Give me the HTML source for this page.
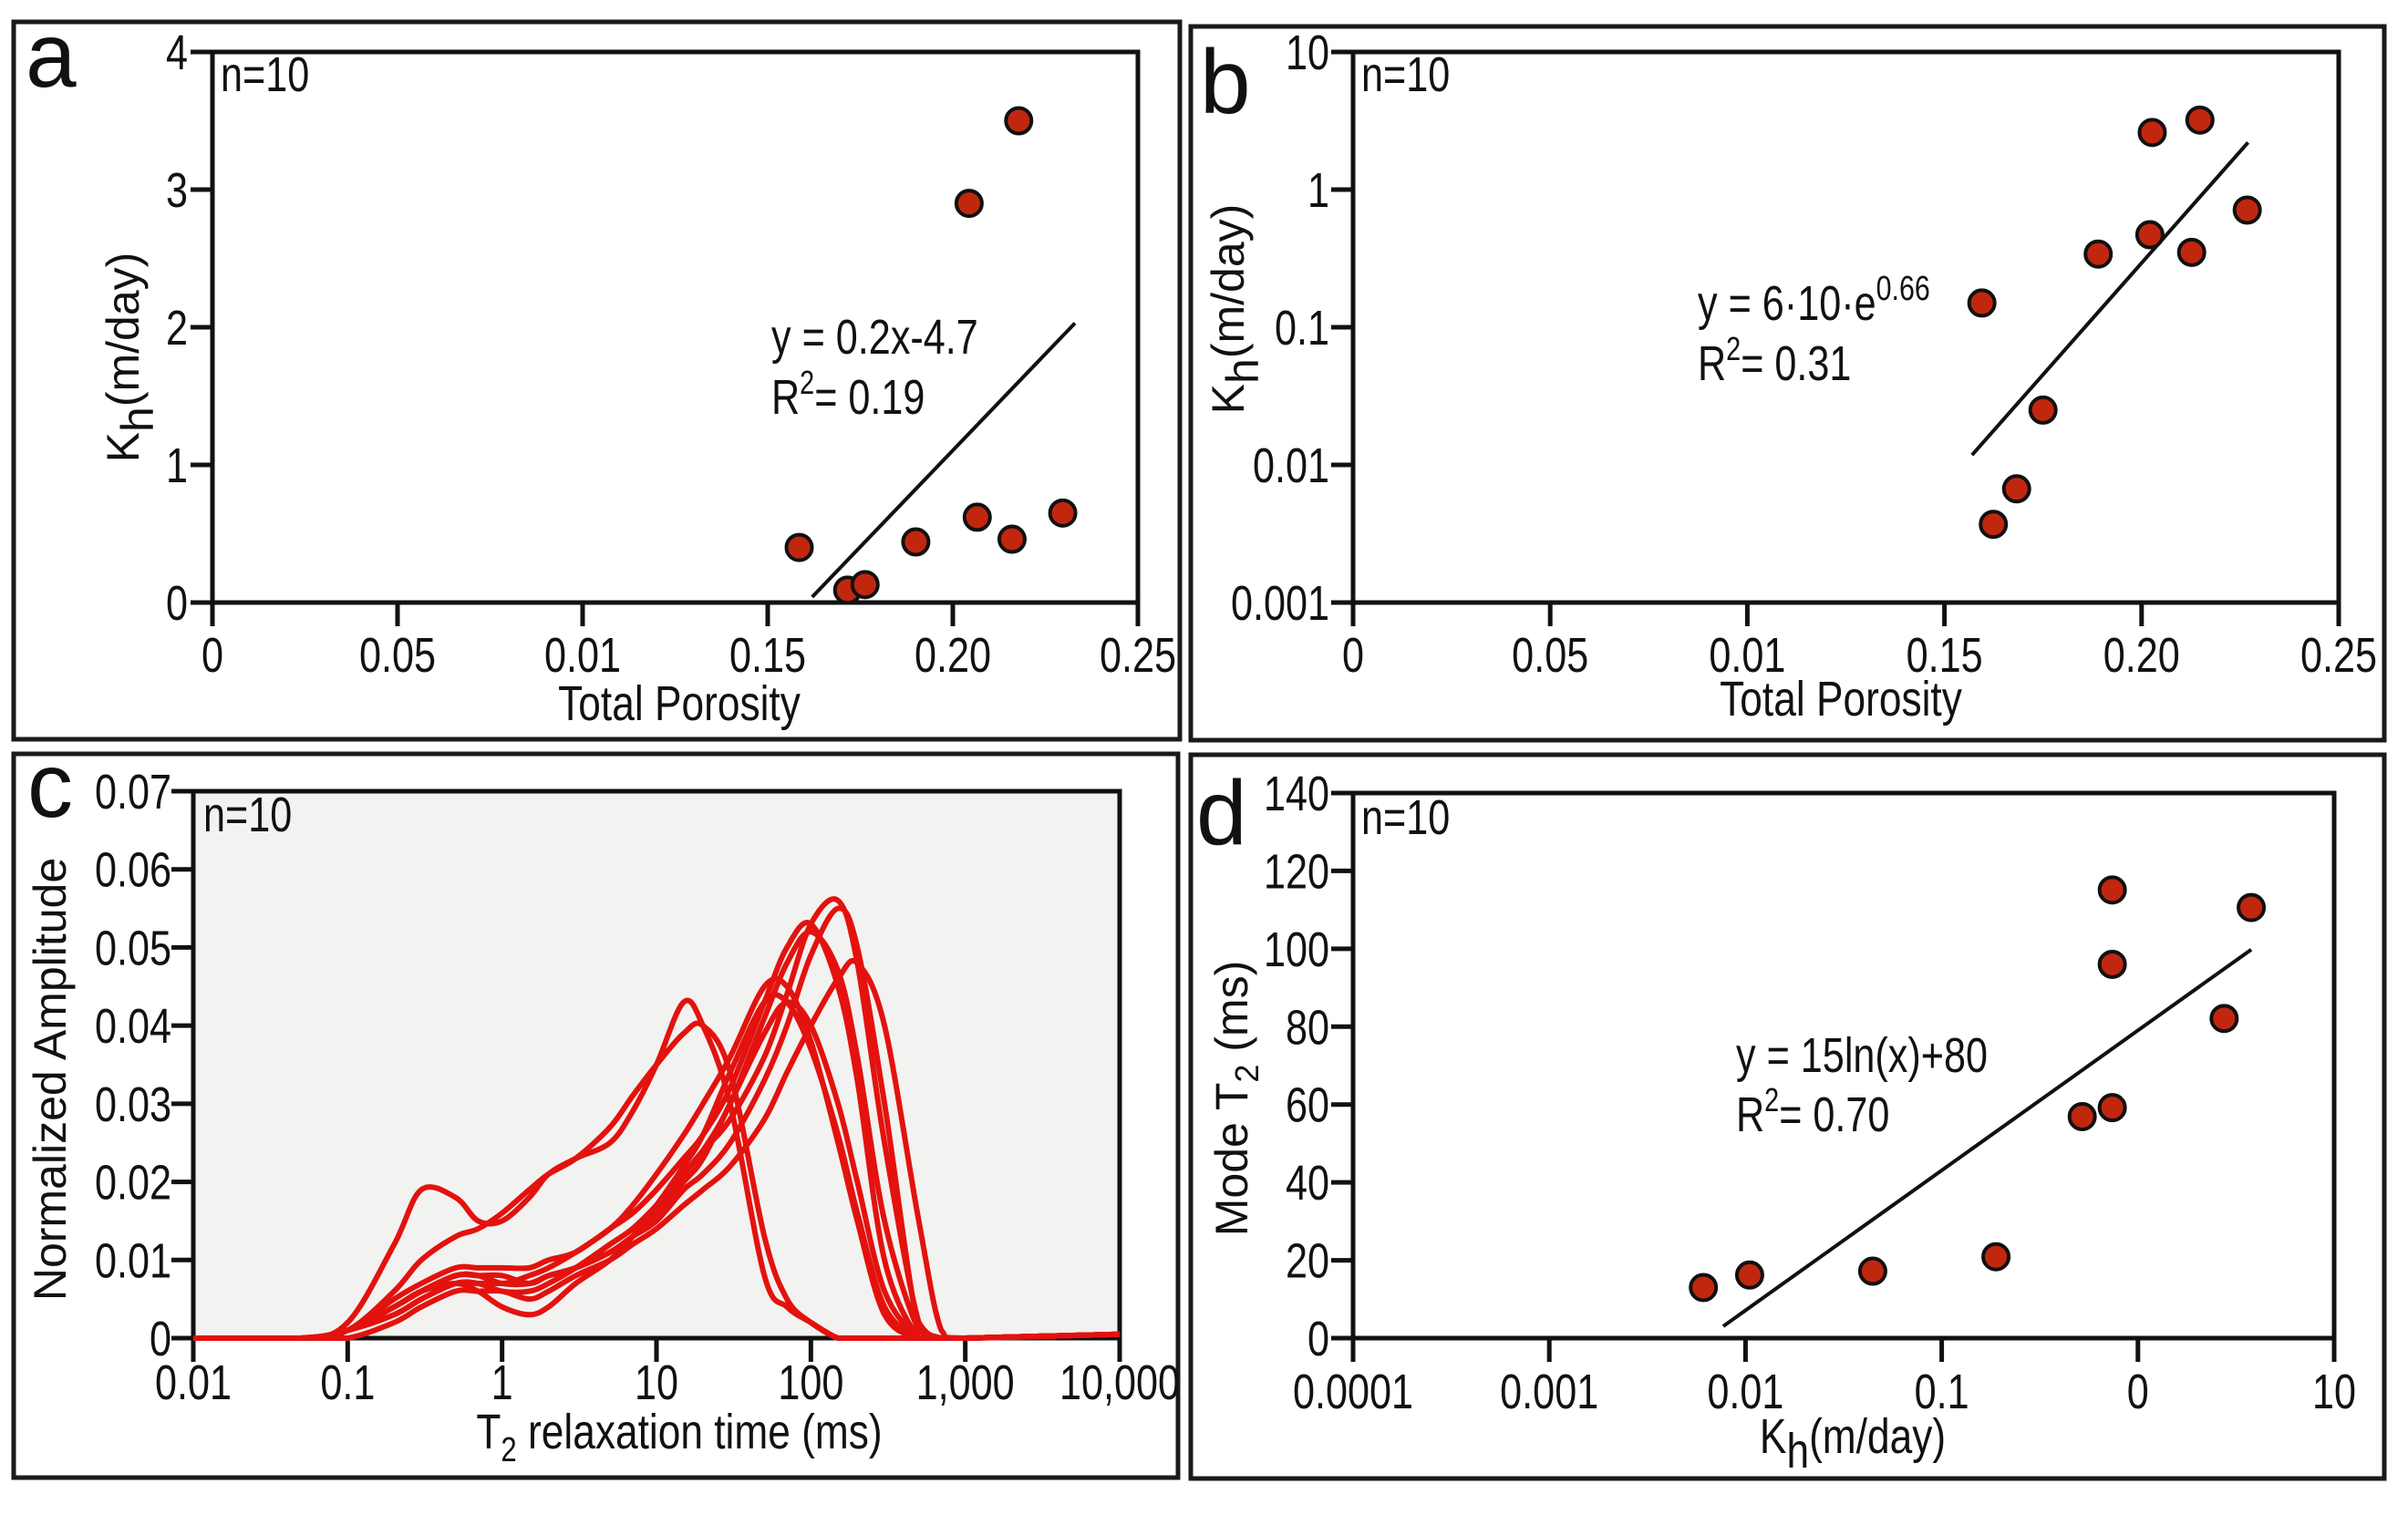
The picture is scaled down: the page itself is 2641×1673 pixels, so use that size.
<!DOCTYPE html>
<html><head><meta charset="utf-8"><style>
html,body{margin:0;padding:0;background:#fff;}
svg{display:block;font-family:"Liberation Sans",sans-serif;}
</style></head><body>
<svg id="fig" width="2641" height="1673" viewBox="0 0 2641 1673" xmlns="http://www.w3.org/2000/svg">
<rect x="0" y="0" width="2641" height="1673" fill="#fff"/>
<!-- panel borders -->
<rect x="15" y="24" width="1279" height="787" fill="none" stroke="#1a1a1a" stroke-width="5"/>
<rect x="1306" y="29" width="1309" height="783" fill="none" stroke="#1a1a1a" stroke-width="5"/>
<rect x="15" y="827" width="1277" height="794" fill="none" stroke="#1a1a1a" stroke-width="5"/>
<rect x="1306" y="828" width="1309" height="794" fill="none" stroke="#1a1a1a" stroke-width="5"/>
<!-- plot frames -->
<rect x="233" y="57" width="1015" height="604" fill="none" stroke="#111" stroke-width="5"/>
<rect x="1484" y="57" width="1081" height="604" fill="none" stroke="#111" stroke-width="5"/>
<rect x="212" y="868" width="1016" height="600" fill="#f2f2f0" stroke="#111" stroke-width="5"/>
<rect x="1484" y="870" width="1076" height="598" fill="none" stroke="#111" stroke-width="5"/>
<!-- panel letters -->
<text x="28" y="95" font-size="100" fill="#111">a</text>
<text x="1316" y="124" font-size="100" fill="#111">b</text>
<text x="30" y="896" font-size="100" fill="#111">c</text>
<text x="1312" y="926" font-size="100" fill="#111">d</text>
<!-- n=10 -->
<text transform="translate(242,100) scale(0.8,1)" font-size="54" fill="#111">n=10</text>
<text transform="translate(1493,100) scale(0.8,1)" font-size="54" fill="#111">n=10</text>
<text transform="translate(223,912) scale(0.8,1)" font-size="54" fill="#111">n=10</text>
<text transform="translate(1493,915) scale(0.8,1)" font-size="54" fill="#111">n=10</text>
<!-- axis titles -->
<text transform="translate(745,790) scale(0.82,1)" font-size="54" text-anchor="middle" fill="#111">Total Porosity</text>
<text transform="translate(2019,785) scale(0.82,1)" font-size="54" text-anchor="middle" fill="#111">Total Porosity</text>
<text transform="translate(745,1589) scale(0.82,1)" font-size="54" text-anchor="middle" fill="#111">T<tspan font-size="38" dy="14">2</tspan><tspan dy="-14"> relaxation time (ms)</tspan></text>
<text transform="translate(2032,1594) scale(0.82,1)" font-size="54" text-anchor="middle" fill="#111">K<tspan dy="16">h</tspan><tspan dy="-16">(m/day)</tspan></text>
<text transform="translate(152,392) rotate(-90)" font-size="50" text-anchor="middle" fill="#111">K<tspan dy="16">h</tspan><tspan dy="-16">(m/day)</tspan></text>
<text transform="translate(1364,339) rotate(-90)" font-size="50" text-anchor="middle" fill="#111">K<tspan dy="16">h</tspan><tspan dy="-16">(m/day)</tspan></text>
<text transform="translate(72,1184) rotate(-90)" font-size="50" text-anchor="middle" fill="#111">Normalized Amplitude</text>
<text transform="translate(1368,1205) rotate(-90)" font-size="50" text-anchor="middle" fill="#111">Mode T<tspan font-size="36" dy="12">2</tspan><tspan dy="-12"> (ms)</tspan></text>
<!-- equations -->
<text transform="translate(846,388) scale(0.8,1)" font-size="54" fill="#111">y = 0.2x-4.7</text>
<text transform="translate(846,454) scale(0.8,1)" font-size="54" fill="#111">R<tspan font-size="36" dy="-22">2</tspan><tspan dy="22">= 0.19</tspan></text>
<text transform="translate(1862,351) scale(0.8,1)" font-size="54" fill="#111">y = 6·10·e<tspan font-size="38" dy="-22">0.66</tspan></text>
<text transform="translate(1862,417) scale(0.8,1)" font-size="54" fill="#111">R<tspan font-size="36" dy="-22">2</tspan><tspan dy="22">= 0.31</tspan></text>
<text transform="translate(1904,1176) scale(0.8,1)" font-size="54" fill="#111">y = 15ln(x)+80</text>
<text transform="translate(1904,1241) scale(0.8,1)" font-size="54" fill="#111">R<tspan font-size="36" dy="-22">2</tspan><tspan dy="22">= 0.70</tspan></text>
<g id="marks"></g>
</svg>
<script>
// ---- Panel a data ----
const aPorosity = [0.1585, 0.1716, 0.1763, 0.190, 0.2044, 0.2066, 0.216, 0.2178, 0.2297];
const aKh = [0.40, 0.09, 0.13, 0.44, 2.90, 0.62, 0.46, 3.50, 0.65];
const aFitX = [0.162, 0.233];
const aFitY = [0.04, 2.03];
const aXTicks = [0, 0.05, 0.10, 0.15, 0.20, 0.25];
const aXLabels = ["0", "0.05", "0.01", "0.15", "0.20", "0.25"];
const aYTicks = [0, 1, 2, 3, 4];
const aYLabels = ["0", "1", "2", "3", "4"];
// ---- Panel b data ----
const bPorosity = [0.1595, 0.1624, 0.1683, 0.175, 0.189, 0.2021, 0.2027, 0.2127, 0.2148, 0.2268];
const bKh = [0.15, 0.0037, 0.0067, 0.025, 0.34, 0.47, 2.6, 0.35, 3.2, 0.71];
const bFitX = [0.157, 0.227];
const bFitY = [0.0118, 2.2];
const bXTicks = [0, 0.05, 0.10, 0.15, 0.20, 0.25];
const bXLabels = ["0", "0.05", "0.01", "0.15", "0.20", "0.25"];
const bYTicks = [0.001, 0.01, 0.1, 1, 10];
const bYLabels = ["0.001", "0.01", "0.1", "1", "10"];
// ---- Panel c data ----
const cT2 = [0.01,0.05,0.1,0.2,0.3,0.5,0.7,1,1.5,2,3,5,7,10,15,20,30,50,70,100,150,200,300,500,700,1000,10000];
const cCurve1 = [0,0,0.002,0.012,0.019,0.018,0.015,0.015,0.018,0.021,0.023,0.025,0.029,0.035,0.043,0.040,0.030,0.008,0.004,0.002,0,0,0,0,0,0,0.0005];
const cCurve2 = [0,0,0.001,0.006,0.010,0.013,0.014,0.016,0.019,0.021,0.023,0.027,0.031,0.035,0.039,0.040,0.034,0.013,0.005,0.002,0,0,0,0,0,0,0.0005];
const cCurve3 = [0,0,0.001,0.004,0.006,0.008,0.008,0.007,0.007,0.008,0.009,0.012,0.014,0.017,0.021,0.024,0.028,0.036,0.044,0.053,0.056,0.048,0.025,0.002,0,0,0.0005];
const cCurve4 = [0,0,0.001,0.004,0.006,0.008,0.008,0.008,0.007,0.008,0.009,0.011,0.013,0.015,0.019,0.021,0.025,0.033,0.040,0.049,0.055,0.050,0.030,0.001,0,0,0.0005];
const cCurve5 = [0,0,0.001,0.005,0.007,0.009,0.009,0.009,0.009,0.010,0.011,0.014,0.016,0.019,0.023,0.026,0.032,0.043,0.050,0.053,0.045,0.033,0.010,0,0,0,0.0005];
const cCurve6 = [0,0,0.001,0.003,0.005,0.007,0.007,0.006,0.006,0.007,0.009,0.012,0.014,0.017,0.021,0.024,0.030,0.041,0.048,0.052,0.047,0.036,0.015,0.001,0,0,0.0005];
const cCurve7 = [0,0,0,0.002,0.004,0.006,0.006,0.006,0.005,0.006,0.008,0.010,0.012,0.014,0.017,0.019,0.022,0.028,0.034,0.040,0.046,0.048,0.040,0.015,0.001,0,0.0005];
const cCurve8 = [0,0,0.001,0.004,0.006,0.008,0.008,0.007,0.008,0.009,0.011,0.014,0.017,0.021,0.026,0.030,0.036,0.045,0.045,0.038,0.025,0.015,0.003,0,0,0,0.0005];
const cCurve9 = [0,0,0.001,0.004,0.006,0.007,0.006,0.004,0.003,0.004,0.007,0.010,0.013,0.017,0.022,0.026,0.034,0.043,0.043,0.037,0.026,0.016,0.004,0,0,0,0.0005];
const cCurve10 = [0,0,0.001,0.003,0.005,0.007,0.007,0.007,0.007,0.008,0.009,0.011,0.013,0.016,0.020,0.023,0.030,0.039,0.043,0.040,0.030,0.020,0.006,0,0,0,0.0005];
const cXTicks = [0.01, 0.1, 1, 10, 100, 1000, 10000];
const cXLabels = ["0.01", "0.1", "1", "10", "100", "1,000", "10,000"];
const cYTicks = [0, 0.01, 0.02, 0.03, 0.04, 0.05, 0.06, 0.07];
const cYLabels = ["0", "0.01", "0.02", "0.03", "0.04", "0.05", "0.06", "0.07"];
// ---- Panel d data ----
const dKh = [0.0061, 0.0105, 0.0445, 0.189, 0.52, 0.74, 0.74, 0.74, 2.75, 3.78];
const dModeT2 = [13.0, 16.2, 17.2, 20.9, 56.9, 59.2, 96.0, 115.1, 82.1, 110.6];
const dFitX = [0.0077, 3.78];
const dFitY = [3.05, 99.8];
const dXTicks = [0.0001, 0.001, 0.01, 0.1, 1, 10];
const dXLabels = ["0.0001", "0.001", "0.01", "0.1", "0", "10"];
const dYTicks = [0, 20, 40, 60, 80, 100, 120, 140];
const dYLabels = ["0", "20", "40", "60", "80", "100", "120", "140"];

// ---- scales ----
const xa = v => 233 + v / 0.25 * 1015;
const ya = v => 661 - v / 4 * 604;
const xb = v => 1484 + v / 0.25 * 1081;
const yb = v => 661 - (Math.log10(v) + 3) / 4 * 604;
const xc = v => 212 + (Math.log10(v) + 2) / 6 * 1016;
const yc = v => 1468 - v / 0.07 * 600;
const xd = v => 1484 + (Math.log10(v) + 4) / 5 * 1076;
const yd = v => 1468 - v / 140 * 598;

const NS = "http://www.w3.org/2000/svg";
const root = document.getElementById("marks");
function mk(tag, attrs, parent) {
  const e = document.createElementNS(NS, tag);
  for (const k in attrs) e.setAttribute(k, attrs[k]);
  (parent || root).appendChild(e);
  return e;
}

function axes(p, xs, ys, xt, xl, yt, yl, x0, yBottom, xLabY, yLabX) {
  xt.forEach((v, i) => {
    const t = mk("line", {x1: xs(v), x2: xs(v), y1: yBottom, y2: yBottom + 26, stroke: "#111", "stroke-width": 5});
    
    
    const l = mk("text", {transform: "translate(" + xs(v) + "," + (xLabY + 2) + ") scale(0.8,1)", "font-size": 54, "text-anchor": "middle", fill: "#111"});
    l.textContent = xl[i];
    
    
  });
  yt.forEach((v, i) => {
    const t = mk("line", {x1: x0 - 24, x2: x0, y1: ys(v), y2: ys(v), stroke: "#111", "stroke-width": 5});
    
    
    const l = mk("text", {transform: "translate(" + yLabX + "," + (ys(v) + 19) + ") scale(0.8,1)", "font-size": 54, "text-anchor": "end", fill: "#111"});
    l.textContent = yl[i];
    
    
  });
}
axes("panel-a", xa, ya, aXTicks, aXLabels, aYTicks, aYLabels, 233, 661, 735, 206);
axes("panel-b", xb, yb, bXTicks, bXLabels, bYTicks, bYLabels, 1484, 661, 735, 1458);
axes("panel-c", xc, yc, cXTicks, cXLabels, cYTicks, cYLabels, 212, 1468, 1533, 188);
axes("panel-d", xd, yd, dXTicks, dXLabels, dYTicks, dYLabels, 1484, 1468, 1543, 1458);

function fit(p, xs, ys, fx, fy) {
  const l = mk("line", {x1: xs(fx[0]), y1: ys(fy[0]), x2: xs(fx[1]), y2: ys(fy[1]), stroke: "#111", "stroke-width": 4});
  
  
}
function dots(p, xs, ys, X, Y) {
  X.forEach((v, i) => {
    const c = mk("circle", {cx: xs(v), cy: ys(Y[i]), r: 14, fill: "#c1270f", stroke: "#111", "stroke-width": 4});
    
    
  });
}
fit("panel-a", xa, ya, aFitX, aFitY);
dots("panel-a", xa, ya, aPorosity, aKh);
fit("panel-b", xb, yb, bFitX, bFitY);
dots("panel-b", xb, yb, bPorosity, bKh);
fit("panel-d", xd, yd, dFitX, dFitY);
dots("panel-d", xd, yd, dKh, dModeT2);

const cCurves = [cCurve1, cCurve2, cCurve3, cCurve4, cCurve5, cCurve6, cCurve7, cCurve8, cCurve9, cCurve10];
cCurves.forEach((ser, k) => {
  const pts = cT2.map((t, i) => [xc(t), yc(ser[i])]);
  let d = "M" + pts[0][0] + "," + pts[0][1];
  for (let i = 0; i < pts.length - 1; i++) {
    const p0 = pts[Math.max(0, i - 1)], p1 = pts[i], p2 = pts[i + 1], p3 = pts[Math.min(pts.length - 1, i + 2)];
    const c1x = p1[0] + (p2[0] - p0[0]) / 6, c1y = Math.min(1468, p1[1] + (p2[1] - p0[1]) / 6);
    const c2x = p2[0] - (p3[0] - p1[0]) / 6, c2y = Math.min(1468, p2[1] - (p3[1] - p1[1]) / 6);
    d += " C" + c1x + "," + c1y + " " + c2x + "," + c2y + " " + p2[0] + "," + p2[1];
  }
  const path = mk("path", {d: d, fill: "none", stroke: "#e3120e", "stroke-width": 6, "stroke-linejoin": "round"});
  
  
});
</script>
</body></html>
